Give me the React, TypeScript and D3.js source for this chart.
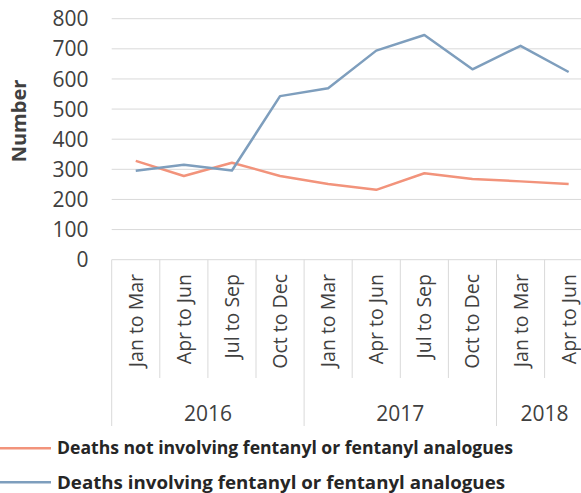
import React from "react";
import * as d3 from "d3";

const quarters = ["Jan to Mar", "Apr to Jun", "Jul to Sep", "Oct to Dec", "Jan to Mar", "Apr to Jun", "Jul to Sep", "Oct to Dec", "Jan to Mar", "Apr to Jun"];
const years = ["2016", "2017", "2018"];
const yearSpans = [4, 4, 2];
const notFentanyl = [328, 278, 322, 278, 251, 232, 287, 268, 260, 251];
const withFentanyl = [295, 315, 296, 543, 569, 694, 746, 632, 710, 623];
const yTicks = [0, 100, 200, 300, 400, 500, 600, 700, 800];
const seriesNames = ["Deaths not involving fentanyl or fentanyl analogues", "Deaths involving fentanyl or fentanyl analogues"];
const colors = ["#F2937B", "#7E9EBD"];

const W = 581, H = 493;
const left = 111.7, bandW = 48.1;
const font = "'Open Sans', sans-serif";
const legendLineY = [448.3, 482.3];
const legendBaseline = [454.3, 488.5];
const legendWidths = [456, 448];

export default function App() {
  const x = d3.scaleBand<number>().domain(d3.range(quarters.length)).range([left, left + bandW * quarters.length]);
  const y = d3.scaleLinear().domain([0, 800]).range([259.7, 18.7]);
  const line = d3.line<number>().x((_, i) => (x(i) as number) + x.bandwidth() / 2).y((d) => y(d));
  const grid = "#d9d9d9";
  const right = left + bandW * quarters.length;
  let acc = 0;
  const yearBounds = yearSpans.map((s) => { const a = acc; acc += s; return [a, acc]; });
  return (
    <svg width={W} height={H} style={{ position: "absolute", left: 0, top: 0, fontFamily: font }}>
      {yTicks.map((t) => (
        <g key={t}>
          {t > 0 && <line x1={left} x2={right} y1={y(t)} y2={y(t)} stroke={grid} strokeWidth={1} />}
          <text x={88.5} y={y(t)} dy="0.36em" textAnchor="end" fontSize={21} fill="#404040">{t}</text>
        </g>
      ))}
      <text transform={`translate(19,121) rotate(-90)`} dy="0.36em" textAnchor="middle" fontSize={20} fontWeight="bold" fill="#404040">Number</text>
      <line x1={left} x2={right} y1={y(0)} y2={y(0)} stroke={grid} strokeWidth={1} />
      {d3.range(quarters.length + 1).map((i) => {
        const isYear = yearBounds.some((b) => b[0] === i) || i === quarters.length;
        const xx = left + i * bandW;
        return <line key={i} x1={xx} x2={xx} y1={y(0)} y2={isYear ? 426 : 378} stroke={grid} strokeWidth={1} />;
      })}
      {quarters.map((q, i) => (
        <text key={i} transform={`translate(${(x(i) as number) + x.bandwidth() / 2},274) rotate(-90)`} dy="0.36em" textAnchor="end" fontSize={19.5} fill="#404040">{q}</text>
      ))}
      {years.map((yr, k) => (
        <text key={yr} x={left + ((yearBounds[k][0] + yearBounds[k][1]) / 2) * bandW} y={413} dy="0.36em" textAnchor="middle" fontSize={21} fill="#404040">{yr}</text>
      ))}
      <path d={line(notFentanyl) || ""} fill="none" stroke={colors[0]} strokeWidth={2.5} strokeLinejoin="round" />
      <path d={line(withFentanyl) || ""} fill="none" stroke={colors[1]} strokeWidth={2.5} strokeLinejoin="round" />
      {seriesNames.map((s, k) => (
        <g key={s}>
          <line x1={0} x2={51} y1={legendLineY[k]} y2={legendLineY[k]} stroke={colors[k]} strokeWidth={2.5} />
          <text x={57} y={legendBaseline[k]} fontSize={18.5} fontWeight="bold" fill="#262626" textLength={legendWidths[k]} lengthAdjust="spacingAndGlyphs">{s}</text>
        </g>
      ))}
    </svg>
  );
}
